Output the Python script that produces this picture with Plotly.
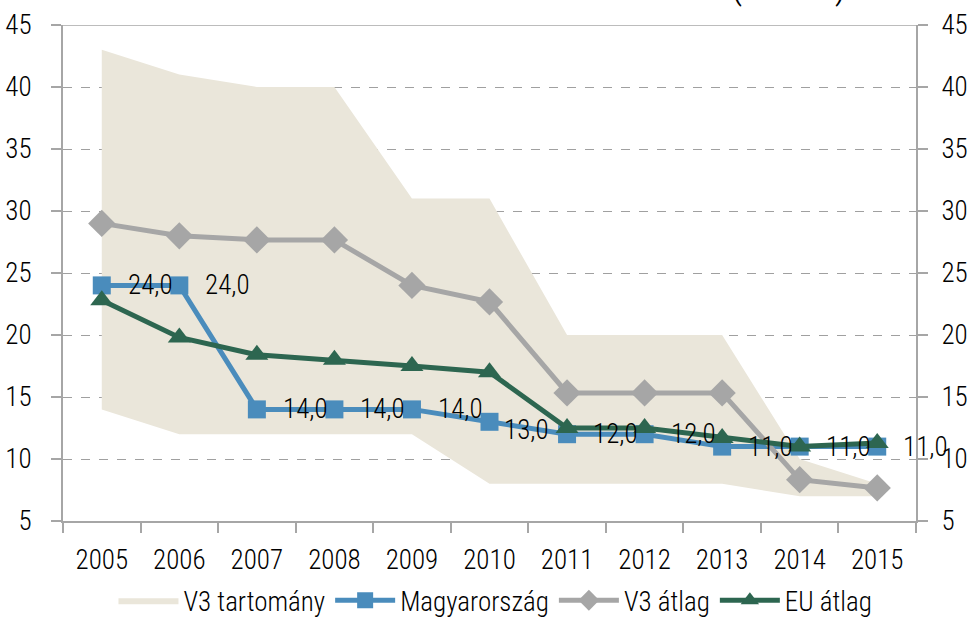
import plotly.graph_objects as go

years = ["2005", "2006", "2007", "2008", "2009", "2010", "2011", "2012", "2013", "2014", "2015"]
v3_upper = [43, 41, 40, 40, 31, 31, 20, 20, 20, 10, 8]
v3_lower = [14, 12, 12, 12, 12, 8, 8, 8, 8, 7, 7]
hungary = [24, 24, 14, 14, 14, 13, 12, 12, 11, 11, 11]
v3_avg = [29, 28, 27.67, 27.67, 24, 22.67, 15.33, 15.33, 15.33, 8.33, 7.67]
eu_avg = [22.8, 19.8, 18.4, 18.0, 17.5, 17.0, 12.5, 12.5, 11.7, 11.0, 11.3]
y_ticks = [5, 10, 15, 20, 25, 30, 35, 40, 45]

FONT = "Roboto Condensed, Liberation Sans Narrow, Arial Narrow, DejaVu Sans Condensed, sans-serif"
FS = 27
GRAY = "#A6A6A6"
BLUE = "#4A8CBC"
GREEN = "#2D6650"
BAND = "#EAE6DA"

def tf(size=FS):
    return dict(family=FONT, size=size, color="black", weight=300)

fig = go.Figure()
fig.add_trace(go.Scatter(x=years, y=v3_lower, mode="lines", line=dict(width=0, color=BAND),
                         showlegend=False, hoverinfo="skip"))
fig.add_trace(go.Scatter(x=years, y=v3_upper, mode="lines", line=dict(width=0, color=BAND),
                         fill="tonexty", fillcolor=BAND, name="V3 tartomány"))
fig.add_trace(go.Scatter(x=years, y=hungary, mode="lines+markers", name="Magyarország",
                         line=dict(color=BLUE, width=5),
                         marker=dict(symbol="square", size=18, color=BLUE)))
fig.add_trace(go.Scatter(x=years, y=v3_avg, mode="lines+markers", name="V3 átlag",
                         line=dict(color=GRAY, width=5),
                         marker=dict(symbol="diamond", size=21, color=GRAY)))
fig.add_trace(go.Scatter(x=years, y=eu_avg, mode="lines+markers", name="EU átlag",
                         line=dict(color=GREEN, width=5),
                         marker=dict(symbol="triangle-up", size=20, color=GREEN)))
# invisible trace on right axis
fig.add_trace(go.Scatter(x=years, y=v3_lower, yaxis="y2", mode="lines", opacity=0,
                         showlegend=False, hoverinfo="skip"))

label_shift = {"2010": (12, -8)}
for i, (yr, v) in enumerate(zip(years, hungary)):
    dx, dy = label_shift.get(yr, (24, 0))
    fig.add_annotation(x=i, y=v, xref="x", yref="y", text=f"{v:.1f}".replace(".", ","),
                       showarrow=False, xanchor="left", yanchor="middle",
                       xshift=dx, yshift=dy, font=tf())

fig.add_annotation(xref="paper", yref="paper", x=0.851, y=1.035, text="(darab)",
                   showarrow=False, xanchor="center", yanchor="bottom", borderpad=0,
                   font=tf(42))

fig.add_shape(type="line", xref="paper", yref="y", x0=0, x1=1, y0=45, y1=45,
              line=dict(color=GRAY, width=1.5))

yax = dict(range=[5, 45], tickvals=y_ticks, showline=True, linecolor=GRAY, linewidth=2,
           ticks="outside", ticklen=10, tickcolor=GRAY, tickwidth=1.5,
           tickfont=tf(), zeroline=False, automargin=False)

fig.update_layout(
    width=973, height=618,
    margin=dict(l=63, r=57, t=25, b=97, autoexpand=False),
    paper_bgcolor="white", plot_bgcolor="white",
    font=tf(),
    xaxis=dict(type="category", range=[-0.5, 10.5], tickson="boundaries", ticks="outside",
               ticklen=10, tickcolor=GRAY, tickwidth=1.5, showline=True, linecolor=GRAY,
               linewidth=2, showgrid=False, ticklabelstandoff=14, automargin=False,
               tickfont=tf()),
    yaxis=dict(**yax, showgrid=True, gridcolor="#A0A0A0", griddash="dash", gridwidth=1,
               ticklabelstandoff=14),
    yaxis2=dict(**yax, overlaying="y", side="right", showgrid=False, ticklabelstandoff=8),
    legend=dict(orientation="h", x=0.507, xanchor="center", yref="container", y=0.028,
                yanchor="middle", font=tf(), itemwidth=60, traceorder="normal",
                tracegroupgap=0, bgcolor="rgba(0,0,0,0)"),
    showlegend=True,
)

fig.write_html("out.html", config={"displayModeBar": False},
               post_script="document.body.style.margin='0';")
